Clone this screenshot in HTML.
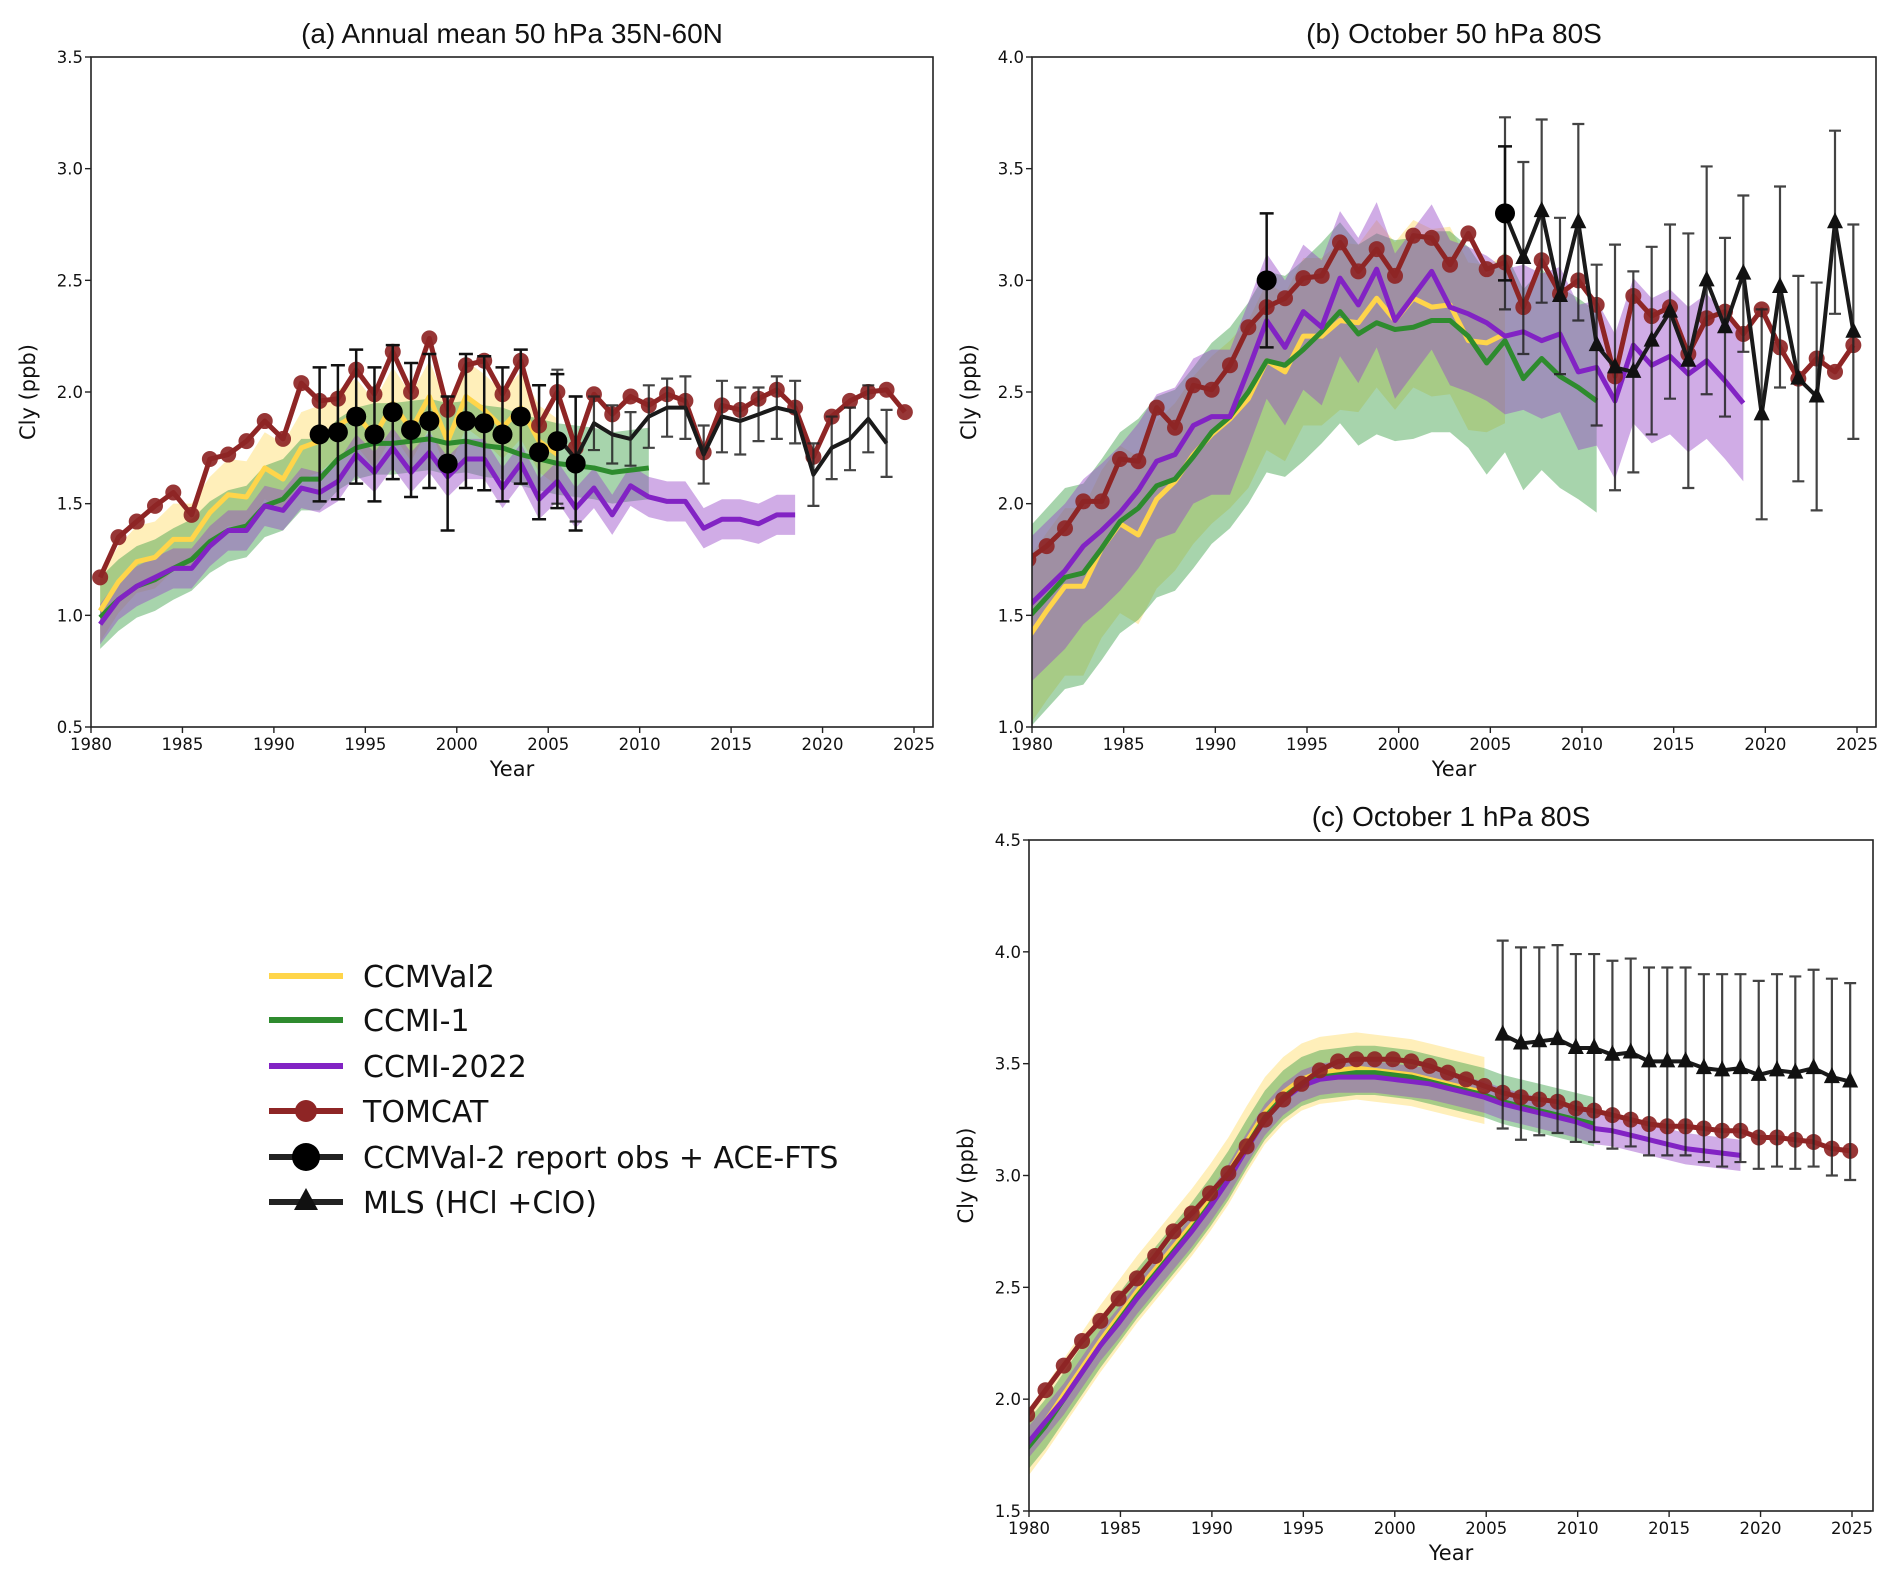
<!DOCTYPE html>
<html><head><meta charset="utf-8">
<style>
html,body{margin:0;padding:0;background:#fff;}
svg{display:block;font-family:"DejaVu Sans","Liberation Sans",sans-serif;}
</style></head>
<body>
<svg id="fig" width="1892" height="1582" viewBox="0 0 1892 1582" xmlns="http://www.w3.org/2000/svg"></svg>
<script>
// ---------- Panel (a) data ----------
const aTomcat = [1.17,1.35,1.42,1.49,1.55,1.45,1.70,1.72,1.78,1.87,1.79,2.04,1.96,1.97,2.10,1.99,2.18,2.00,2.24,1.92,2.12,2.14,1.99,2.14,1.85,2.00,1.75,1.99,1.90,1.98,1.94,1.99,1.96,1.73,1.94,1.92,1.97,2.01,1.93,1.71,1.89,1.96,2.00,2.01,1.91];
const aObs = [1.81,1.82,1.89,1.81,1.91,1.83,1.87,1.68,1.87,1.86,1.81,1.89,1.73,1.78,1.68];
const aMls = [1.80,1.70,1.86,1.81,1.79,1.89,1.93,1.93,1.72,1.89,1.87,1.90,1.93,1.91,1.63,1.75,1.79,1.88,1.77];
const aMlsErr = [0.30,0.28,0.12,0.13,0.12,0.14,0.13,0.14,0.13,0.16,0.15,0.12,0.14,0.14,0.14,0.14,0.14,0.15,0.15];
const aCcmval2 = [1.02,1.15,1.24,1.26,1.34,1.34,1.46,1.54,1.53,1.66,1.61,1.75,1.78,1.85,1.90,1.80,1.95,1.83,1.98,1.78,1.98,1.92,1.84,1.93,1.78,1.72];
const aCcmi1 = [0.99,1.07,1.13,1.16,1.21,1.25,1.33,1.38,1.40,1.49,1.52,1.61,1.61,1.70,1.75,1.77,1.77,1.78,1.79,1.77,1.78,1.76,1.75,1.72,1.70,1.68,1.67,1.66,1.64,1.65,1.66];
const aCcmi2022 = [0.96,1.07,1.13,1.17,1.21,1.21,1.31,1.38,1.38,1.49,1.47,1.57,1.55,1.60,1.72,1.64,1.75,1.64,1.73,1.62,1.70,1.70,1.57,1.68,1.52,1.60,1.48,1.57,1.45,1.58,1.53,1.51,1.51,1.39,1.43,1.43,1.41,1.45,1.45];
// ---------- Panel (b) data ----------
const bTomcat = [1.75,1.81,1.89,2.01,2.01,2.20,2.19,2.43,2.34,2.53,2.51,2.62,2.79,2.88,2.92,3.01,3.02,3.17,3.04,3.14,3.02,3.20,3.19,3.07,3.21,3.05,3.08,2.88,3.09,2.94,3.00,2.89,2.57,2.93,2.84,2.88,2.67,2.83,2.86,2.76,2.87,2.70,2.56,2.65,2.59,2.71];
const bObs = [3.00,3.30];
const bObsYears = [1993,2006];
const bMls = [3.30,3.10,3.31,2.93,3.26,2.71,2.61,2.59,2.73,2.86,2.64,3.00,2.79,3.03,2.40,2.97,2.56,2.48,3.26,2.77];
const bMlsErr = [0.43,0.43,0.41,0.35,0.44,0.36,0.55,0.45,0.42,0.39,0.57,0.51,0.40,0.35,0.47,0.45,0.46,0.51,0.41,0.48];
const bCcmval2 = [1.40,1.52,1.63,1.63,1.80,1.91,1.86,2.02,2.10,2.22,2.31,2.38,2.47,2.64,2.59,2.75,2.75,2.82,2.81,2.92,2.82,2.92,2.88,2.89,2.73,2.72,2.76];
const bCcmi1 = [1.49,1.58,1.67,1.69,1.80,1.92,1.98,2.08,2.11,2.21,2.32,2.39,2.50,2.64,2.62,2.69,2.77,2.86,2.76,2.81,2.78,2.79,2.82,2.82,2.75,2.63,2.73,2.56,2.65,2.57,2.52,2.46];
const bCcmi2022 = [1.54,1.62,1.70,1.81,1.88,1.96,2.06,2.19,2.22,2.35,2.39,2.39,2.60,2.82,2.70,2.86,2.79,3.01,2.89,3.05,2.82,2.93,3.04,2.88,2.85,2.81,2.75,2.77,2.73,2.76,2.59,2.61,2.46,2.71,2.62,2.66,2.58,2.64,2.55,2.45];
// ---------- Panel (c) data ----------
const cTomcat = [1.93,2.04,2.15,2.26,2.35,2.45,2.54,2.64,2.75,2.83,2.92,3.01,3.13,3.25,3.34,3.41,3.47,3.51,3.52,3.52,3.52,3.51,3.49,3.46,3.43,3.40,3.37,3.35,3.34,3.33,3.30,3.29,3.27,3.25,3.23,3.22,3.22,3.21,3.20,3.20,3.17,3.17,3.16,3.15,3.12,3.11];
const cMls = [3.63,3.59,3.60,3.61,3.57,3.57,3.54,3.55,3.51,3.51,3.51,3.48,3.47,3.48,3.45,3.47,3.46,3.48,3.44,3.42];
const cMlsErr = [0.42,0.43,0.42,0.42,0.42,0.42,0.42,0.42,0.42,0.42,0.42,0.42,0.43,0.42,0.42,0.43,0.43,0.44,0.44,0.44];
const cCcmval2 = [1.79,1.90,2.02,2.14,2.26,2.37,2.48,2.58,2.68,2.78,2.89,3.01,3.15,3.28,3.37,3.43,3.46,3.47,3.48,3.47,3.46,3.45,3.43,3.41,3.39,3.37];
const cCcmi1 = [1.78,1.88,2.00,2.12,2.24,2.35,2.46,2.56,2.66,2.76,2.87,2.99,3.13,3.26,3.35,3.41,3.44,3.45,3.46,3.46,3.45,3.44,3.42,3.40,3.38,3.36,3.33,3.31,3.29,3.27,3.25,3.23];
const cCcmi2022 = [1.80,1.90,2.00,2.12,2.24,2.34,2.45,2.55,2.65,2.75,2.86,2.98,3.12,3.25,3.34,3.40,3.43,3.44,3.44,3.44,3.43,3.42,3.41,3.39,3.37,3.35,3.32,3.30,3.28,3.26,3.24,3.21,3.20,3.18,3.16,3.14,3.12,3.11,3.10,3.09];
// band half-widths [below, above]
const aSpread = {ccmval2:[0.14,0.16], ccmi1:[0.14,0.18], ccmi2022:[0.09,0.09]};
const bSpread = {ccmval2:[0.40,0.35], ccmi1:[0.50,0.40], ccmi2022:[0.35,0.30]};
const cSpread = {ccmval2:[0.14,0.16], ccmi1:[0.10,0.12], ccmi2022:[0.07,0.07]};
const xTicks = [1980,1985,1990,1995,2000,2005,2010,2015,2020,2025];
const aYTicks = [0.5,1.0,1.5,2.0,2.5,3.0,3.5];
const bYTicks = [1.0,1.5,2.0,2.5,3.0,3.5,4.0];
const cYTicks = [1.5,2.0,2.5,3.0,3.5,4.0,4.5];

const C = {y:'#ffd54a', yb:'rgba(255,213,74,0.38)', g:'#2e8b2e', gb:'rgba(60,160,70,0.45)', p:'#8223c4', pb:'rgba(150,70,200,0.45)', r:'#8e2525', k:'#111'};
const NS='http://www.w3.org/2000/svg';
const svg=document.getElementById('fig');
function mk(tag,attrs,parent){const e=document.createElementNS(NS,tag);for(const k in attrs)e.setAttribute(k,attrs[k]);(parent||svg).appendChild(e);return e;}

function panel(cfg){
  const g=mk('g',{});
  
  
  const X=v=>cfg.x0+(v-1980)*(cfg.x2025-cfg.x0)/45;
  const Y=v=>cfg.bot-(v-cfg.ymin)*(cfg.bot-cfg.top)/(cfg.ymax-cfg.ymin);
  const cid='clip'+cfg.id;
  const cp=mk('clipPath',{id:cid},g); mk('rect',{x:cfg.x0,y:cfg.top,width:cfg.right-cfg.x0,height:cfg.bot-cfg.top},cp);
  const pg=mk('g',{'clip-path':'url(#'+cid+')'},g);
  function band(arr,off,sp,fill,name){
    let up=arr.map((v,i)=>X(1980+i+off)+','+Y(v+sp[1]));
    let lo=arr.map((v,i)=>X(1980+i+off)+','+Y(v-sp[0])).reverse();
    const e=mk('polygon',{points:up.concat(lo).join(' '),fill:fill},pg);
    
    
  }
  function line(arr,off,col,w,name,start){
    start=start||1980;
    const pts=arr.map((v,i)=>X(start+i+off)+','+Y(v)).join(' ');
    const e=mk('polyline',{points:pts,fill:'none',stroke:col,'stroke-width':w,'stroke-linejoin':'round',opacity:cfg.op||1},pg);
    
    
  }
  band(cfg.d.ccmval2,cfg.off,cfg.s.ccmval2,C.yb,'ccmval2-band');
  band(cfg.d.ccmi1,cfg.off,cfg.s.ccmi1,C.gb,'ccmi1-band');
  band(cfg.d.ccmi2022,cfg.off,cfg.s.ccmi2022,C.pb,'ccmi2022-band');
  line(cfg.d.ccmval2,cfg.off,C.y,5,'ccmval2-line');
  line(cfg.d.ccmi1,cfg.off,C.g,5,'ccmi1-line');
  line(cfg.d.ccmi2022,cfg.off,C.p,5,'ccmi2022-line');
  // TOMCAT
  line(cfg.d.tomcat,cfg.off,C.r,5,'tomcat-line');
  cfg.d.tomcat.forEach((v,i)=>{const c=mk('circle',{cx:X(1980+i+cfg.off),cy:Y(v),r:8,fill:C.r,opacity:0.92},pg);
    
    });
  // MLS
  const ms=cfg.mlsStart;
  line(cfg.d.mls,cfg.off,'#1a1a1a',4,'mls-line',ms);
  cfg.d.mls.forEach((v,i)=>{
    const x=X(ms+i+cfg.off), e=cfg.d.mlsErr[i];
    const eb=mk('path',{d:`M${x},${Y(v-e)}V${Y(v+e)}M${x-6},${Y(v-e)}h12M${x-6},${Y(v+e)}h12`,stroke:'#222','stroke-width':2.2,fill:'none',opacity:0.85},pg);
    
    
    if(cfg.tri){const t=mk('polygon',{points:`${x},${Y(v)-10} ${x-8},${Y(v)+6} ${x+8},${Y(v)+6}`,fill:'#111'},pg);
      
      }
  });
  // obs
  cfg.obs.forEach((v,i)=>{
    const x=X(cfg.obsYears[i]+cfg.off);
    const eb=mk('path',{d:`M${x},${Y(v-0.3)}V${Y(v+0.3)}M${x-7},${Y(v-0.3)}h14M${x-7},${Y(v+0.3)}h14`,stroke:'#111','stroke-width':2.5,fill:'none'},pg);
    
    
    const c=mk('circle',{cx:x,cy:Y(v),r:10,fill:'#000'},pg);
    
    
  });
  // frame
  mk('rect',{x:cfg.x0,y:cfg.top,width:cfg.right-cfg.x0,height:cfg.bot-cfg.top,fill:'none',stroke:'#222','stroke-width':1.6},g);
  xTicks.forEach(t=>{const x=X(t);mk('line',{x1:x,x2:x,y1:cfg.bot,y2:cfg.bot+6,stroke:'#222','stroke-width':1.4},g);
    const tx=mk('text',{x:x,y:cfg.bot+23,'font-size':16.5,'text-anchor':'middle',fill:'#111'},g);tx.textContent=t;
    
    });
  cfg.yt.forEach(t=>{const y=Y(t);mk('line',{x1:cfg.x0-6,x2:cfg.x0,y1:y,y2:y,stroke:'#222','stroke-width':1.4},g);
    const tx=mk('text',{x:cfg.x0-8,y:y+6,'font-size':16.5,'text-anchor':'end',fill:'#111'},g);tx.textContent=t.toFixed(1);
    
    });
  const xl=mk('text',{x:(cfg.x0+cfg.right)/2,y:cfg.bot+49,'font-size':21,'text-anchor':'middle',fill:'#111'},g);xl.textContent='Year';
  
  
  const yl=mk('text',{x:0,y:0,'font-size':21,'text-anchor':'middle',fill:'#111',transform:`translate(${cfg.x0-56},${(cfg.top+cfg.bot)/2}) rotate(-90)`},g);yl.textContent='Cly (ppb)';
  
  
  const ti=mk('text',{x:(cfg.x0+cfg.right)/2,y:cfg.top-14,'font-size':28,'text-anchor':'middle',fill:'#111',"font-family":'"Liberation Sans",sans-serif'},g);ti.textContent=cfg.title;
  
  
}

panel({id:'a',name:'panel-a',title:'(a) Annual mean 50 hPa 35N-60N',x0:91,x2025:914,right:933,top:57,bot:727,ymin:0.5,ymax:3.5,yt:aYTicks,off:0.5,
  d:{tomcat:aTomcat,mls:aMls,mlsErr:aMlsErr,ccmval2:aCcmval2,ccmi1:aCcmi1,ccmi2022:aCcmi2022},s:aSpread,
  obs:aObs,obsYears:aObs.map((v,i)=>1992+i),mlsStart:2005,tri:false});
panel({id:'b',name:'panel-b',title:'(b) October 50 hPa 80S',x0:1032,x2025:1857,right:1876,top:57,bot:727,ymin:1.0,ymax:4.0,yt:bYTicks,off:-0.2,
  d:{tomcat:bTomcat,mls:bMls,mlsErr:bMlsErr,ccmval2:bCcmval2,ccmi1:bCcmi1,ccmi2022:bCcmi2022},s:bSpread,
  obs:bObs,obsYears:bObsYears,mlsStart:2006,tri:true});
panel({id:'c',name:'panel-c',title:'(c) October 1 hPa 80S',x0:1029,x2025:1852,right:1873,top:840,bot:1511,ymin:1.5,ymax:4.5,yt:cYTicks,off:-0.1,
  d:{tomcat:cTomcat,mls:cMls,mlsErr:cMlsErr,ccmval2:cCcmval2,ccmi1:cCcmi1,ccmi2022:cCcmi2022},s:cSpread,
  obs:[],obsYears:[],mlsStart:2006,tri:true});

// legend
const leg=mk('g',{});


const legLabels=['CCMVal2','CCMI-1','CCMI-2022','TOMCAT','CCMVal-2 report obs + ACE-FTS','MLS (HCl +ClO)'];
const legColors=[C.y,C.g,C.p,C.r,'#222','#222'];
const legYs=[976,1020,1066,1111,1157,1202];
legLabels.forEach((lab,i)=>{
  const y=legYs[i];
  const ln=mk('line',{x1:269,x2:343,y1:y,y2:y,stroke:legColors[i],'stroke-width':6},leg);
  
  
  if(i===3) mk('circle',{cx:306,cy:y,r:11,fill:C.r},leg);
  if(i===4) mk('circle',{cx:306,cy:y,r:14,fill:'#000'},leg);
  if(i===5) mk('polygon',{points:`306,${y-14} 294,${y+8} 318,${y+8}`,fill:'#111'},leg);
  const t=mk('text',{x:363,y:y+11,'font-size':30,fill:'#111'},leg);t.textContent=lab;
  
  
});
</script>
</body></html>
